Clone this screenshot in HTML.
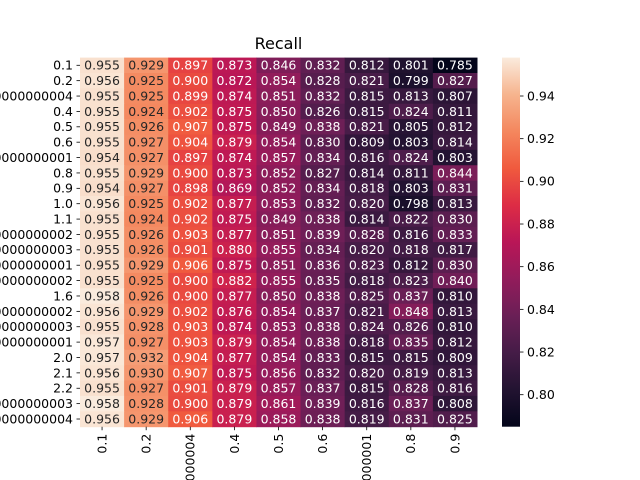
<!DOCTYPE html>
<html><head><meta charset="utf-8"><style>
html,body{margin:0;padding:0;background:#fff;width:640px;height:480px;overflow:hidden;}
svg{display:block;font-family:"DejaVu Sans","Liberation Sans",sans-serif;overflow:hidden;}
</style></head><body>
<svg id="chart" width="640" height="480" viewBox="0 0 640 480" xmlns="http://www.w3.org/2000/svg">
<rect width="640" height="480" fill="#fff"/>
<text x="278.5" y="49" font-size="16" text-anchor="middle">Recall</text>
<g id="cells"></g><g id="ylab"></g><g id="xlab"></g>
<defs><linearGradient id="cbg" x1="0" y1="1" x2="0" y2="0"></linearGradient></defs>
<rect id="cbar" x="502" y="57.6" width="18" height="369.1" fill="url(#cbg)"/>
<g id="cbticks"></g>
</svg>
<script>
const rowLabels=["0.1","0.2","0.30000000000000004","0.4","0.5","0.6","0.7000000000000001","0.8","0.9","1.0","1.1","1.2000000000000002","1.3000000000000003","1.4000000000000001","1.5000000000000002","1.6","1.7000000000000002","1.8000000000000003","1.9000000000000001","2.0","2.1","2.2","2.3000000000000003","2.4000000000000004"];
const colLabels=["0.1","0.2","0.30000000000000004","0.4","0.5","0.6","0.7000000000000001","0.8","0.9"];
const values=[
[.955,.929,.897,.873,.846,.832,.812,.801,.785],
[.956,.925,.900,.872,.854,.828,.821,.799,.827],
[.955,.925,.899,.874,.851,.832,.815,.813,.807],
[.955,.924,.902,.875,.850,.826,.815,.824,.811],
[.955,.926,.907,.875,.849,.838,.821,.805,.812],
[.955,.927,.904,.879,.854,.830,.809,.803,.814],
[.954,.927,.897,.874,.857,.834,.816,.824,.803],
[.955,.929,.900,.873,.852,.827,.814,.811,.844],
[.954,.927,.898,.869,.852,.834,.818,.803,.831],
[.956,.925,.902,.877,.853,.832,.820,.798,.813],
[.955,.924,.902,.875,.849,.838,.814,.822,.830],
[.955,.926,.903,.877,.851,.839,.828,.816,.833],
[.955,.926,.901,.880,.855,.834,.820,.818,.817],
[.955,.929,.906,.875,.851,.836,.823,.812,.830],
[.955,.925,.900,.882,.855,.835,.818,.823,.840],
[.958,.926,.900,.877,.850,.838,.825,.837,.810],
[.956,.929,.902,.876,.854,.837,.821,.848,.813],
[.955,.928,.903,.874,.853,.838,.824,.826,.810],
[.957,.927,.903,.879,.854,.838,.818,.835,.812],
[.957,.932,.904,.877,.854,.833,.815,.815,.809],
[.956,.930,.907,.875,.856,.832,.820,.819,.813],
[.955,.927,.901,.879,.857,.837,.815,.828,.816],
[.958,.928,.900,.879,.861,.839,.816,.837,.808],
[.956,.929,.906,.879,.858,.838,.819,.831,.825]];
const cbTicks=[0.80,0.82,0.84,0.86,0.88,0.90,0.92,0.94];
const NS="http://www.w3.org/2000/svg";
const X0=80,X1=477,Y0=57.6,Y1=426.7;
const cw=(X1-X0)/colLabels.length, rh=(Y1-Y0)/rowLabels.length;
const flat=values.flat(); const vmin=Math.min(...flat), vmax=Math.max(...flat);
const stops=[[3,5,26],[34,19,49],[69,28,71],[106,31,86],[146,28,91],[185,22,87],[221,44,69],[240,90,62],[244,135,94],[246,180,142],[250,235,221]];
function cmap(t){t=Math.max(0,Math.min(1,t));const p=t*10,i=Math.min(9,Math.floor(p)),f=p-i;const a=stops[i],b=stops[i+1];return [0,1,2].map(k=>Math.round(a[k]+(b[k]-a[k])*f));}
function lum(c){const l=c.map(v=>{v/=255;return v<=0.03928?v/12.92:Math.pow((v+0.055)/1.055,2.4)});return .2126*l[0]+.7152*l[1]+.0722*l[2];}
function el(tag,attrs,parent){const e=document.createElementNS(NS,tag);for(const k in attrs)e.setAttribute(k,attrs[k]);parent.appendChild(e);return e;}
const cells=document.getElementById('cells');
values.forEach((row,r)=>row.forEach((v,c)=>{
  const col=cmap((v-vmin)/(vmax-vmin));
  const rect=el('rect',{x:X0+c*cw,y:Y0+r*rh,width:cw+0.5,height:rh+0.5,fill:`rgb(${col})`},cells);
  
  
  const t=el('text',{x:X0+c*cw+cw/2,y:Y0+r*rh+rh/2+4.4,'font-size':'12.5','text-anchor':'middle',fill:lum(col)>0.3?'#262626':'#ffffff'},cells);
  
  
  t.textContent=v.toFixed(3);
}));
const yl=document.getElementById('ylab');
rowLabels.forEach((l,r)=>{const y=Y0+r*rh+rh/2;
  el('line',{x1:X0-3.5,x2:X0,y1:y,y2:y,stroke:'#000','stroke-width':0.8},yl);
  const t=el('text',{x:X0-7,y:y+4.4,'font-size':'12.5','text-anchor':'end'},yl);
  
  
  t.textContent=l;});
const xl=document.getElementById('xlab');
colLabels.forEach((l,c)=>{const x=X0+c*cw+cw/2;
  el('line',{x1:x,x2:x,y1:Y1,y2:Y1+3.5,stroke:'#000','stroke-width':0.8},xl);
  const t=el('text',{x:0,y:0,'font-size':'12.5','text-anchor':'end',transform:`translate(${x+4.4},${Y1+7}) rotate(-90)`},xl);
  
  
  t.textContent=l;});
const g=document.getElementById('cbg');
for(let i=0;i<=10;i++){el('stop',{offset:i/10,'stop-color':`rgb(${stops[i]})`},g);}
const ct=document.getElementById('cbticks');
cbTicks.forEach(v=>{const y=Y1-(v-vmin)/(vmax-vmin)*(Y1-Y0);
  el('line',{x1:520,x2:523.5,y1:y,y2:y,stroke:'#000','stroke-width':0.8},ct);
  const t=el('text',{x:527,y:y+4.4,'font-size':'12.5'},ct);
  
  
  t.textContent=v.toFixed(2);});
</script>
</body></html>
